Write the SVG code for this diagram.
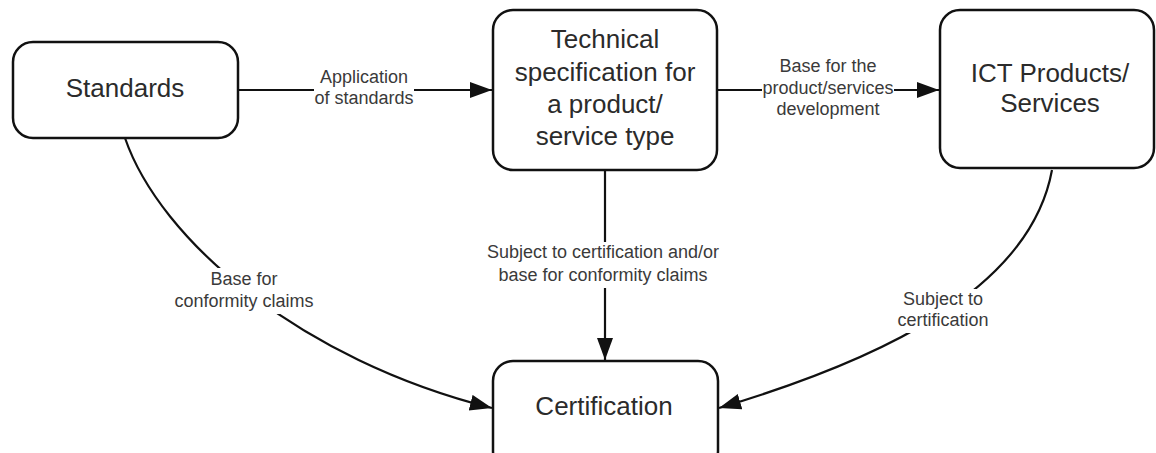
<svg xmlns="http://www.w3.org/2000/svg" width="1156" height="453" viewBox="0 0 1156 453">
  <style>
    .box { fill: #ffffff; stroke: #111111; stroke-width: 2.5; }
    .node-text { font-family: "Liberation Sans", Arial, sans-serif; font-size: 26px; fill: #2b2b2b; text-anchor: middle; }
    .edge { fill: none; stroke: #111111; stroke-width: 2.2; }
    .edge-bg { fill: #ffffff; }
    .edge-text { font-family: "Liberation Sans", Arial, sans-serif; font-size: 18px; fill: #3a3a3a; text-anchor: middle; }
  </style>
  <defs>
    <marker id="arrow" markerUnits="userSpaceOnUse" markerWidth="24" markerHeight="18" refX="22" refY="8" orient="auto">
      <path d="M0,0 L22,8 L0,16 Z" fill="#111111"/>
    </marker>
  </defs>
  <rect width="1156" height="453" fill="#ffffff"/>

  <g id="connectors">
    <!-- Standards -> Technical specification -->
    <path class="edge" d="M238,90 L492,90" marker-end="url(#arrow)"/>
    <rect class="edge-bg" x="314" y="66" width="100" height="44"/>
    <text class="edge-text" x="364" y="83">Application</text>
    <text class="edge-text" x="364" y="104">of standards</text>

    <!-- Technical specification -> ICT Products/Services -->
    <path class="edge" d="M717,90 L939,90" marker-end="url(#arrow)"/>
    <rect class="edge-bg" x="762" y="82" width="132" height="16"/>
    <text class="edge-text" x="828" y="72">Base for the</text>
    <text class="edge-text" x="828" y="94">product/services</text>
    <text class="edge-text" x="828" y="115">development</text>

    <!-- Technical specification -> Certification -->
    <path class="edge" d="M605,170 L605,360" marker-end="url(#arrow)"/>
    <rect class="edge-bg" x="486" y="242" width="236" height="46"/>
    <text class="edge-text" x="603" y="258">Subject to certification and/or</text>
    <text class="edge-text" x="603" y="281">base for conformity claims</text>

    <!-- Standards -> Certification -->
    <path class="edge" d="M125,138 C160,240 300,360 492,408" marker-end="url(#arrow)"/>
    <rect class="edge-bg" x="172" y="268" width="146" height="46"/>
    <text class="edge-text" x="244" y="285">Base for</text>
    <text class="edge-text" x="244" y="307">conformity claims</text>

    <!-- ICT Products/Services -> Certification -->
    <path class="edge" d="M1052,170 C1030,290 880,360 719,408" marker-end="url(#arrow)"/>
    <rect class="edge-bg" x="895" y="289" width="96" height="44"/>
    <text class="edge-text" x="943" y="305">Subject to</text>
    <text class="edge-text" x="943" y="326">certification</text>
  </g>

  <g id="node-standards">
    <rect class="box" x="13" y="42" width="225" height="96" rx="20" ry="20"/>
    <text class="node-text" x="125" y="97">Standards</text>
  </g>

  <g id="node-technical-spec">
    <rect class="box" x="493" y="10" width="224" height="160" rx="20" ry="20"/>
    <text class="node-text" x="605" y="48">Technical</text>
    <text class="node-text" x="605" y="81">specification for</text>
    <text class="node-text" x="605" y="113">a product/</text>
    <text class="node-text" x="605" y="145">service type</text>
  </g>

  <g id="node-ict">
    <rect class="box" x="940" y="10" width="214" height="158" rx="20" ry="20"/>
    <text class="node-text" x="1050" y="82">ICT Products/</text>
    <text class="node-text" x="1050" y="112">Services</text>
  </g>

  <g id="node-certification">
    <rect class="box" x="493" y="361" width="225" height="110" rx="20" ry="20"/>
    <text class="node-text" x="604" y="415">Certification</text>
  </g>
</svg>
